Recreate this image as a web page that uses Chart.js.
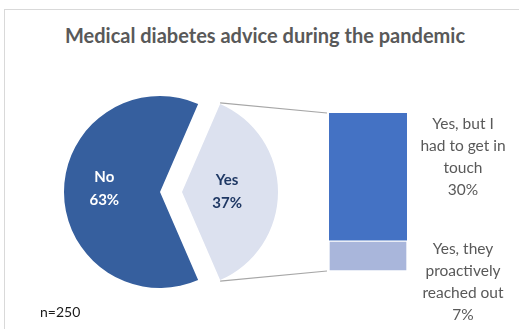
<!DOCTYPE html>
<html>
<head>
<meta charset="utf-8">
<script src="https://cdn.jsdelivr.net/npm/chart.js@4.4.1/dist/chart.umd.min.js"></script>
<style>
  html, body { margin: 0; padding: 0; background: #fff; }
  #wrap { position: relative; width: 519px; height: 329px; overflow: hidden; font-family: Lato, "Open Sans", sans-serif; }
  #frame { position: absolute; left: 4px; top: 9px; width: 600px; height: 400px; border-top: 1px solid #D9D9D9; border-left: 1px solid #D9D9D9; }
  canvas { position: absolute; left: 0; top: 0; }
  #title { position: absolute; left: 0; top: 23px; width: 530px; text-align: center; font-weight: bold; font-size: 20px; color: #595959; }
  #note { position: absolute; left: 40px; top: 303px; font-size: 14px; color: #1a1a1a; }
</style>
</head>
<body>
<div id="wrap">
  <div id="frame"></div>
  <div id="title">Medical diabetes advice during the pandemic</div>
  <canvas id="pieNo" width="519" height="329"></canvas>
  <canvas id="pieYes" width="519" height="329"></canvas>
  <canvas id="bar" width="519" height="329"></canvas>
  <div id="note">n=250</div>
</div>
<script>
// ---- data ----
const pieLabels = ['Yes', 'No'];
const pieValues = [37, 63];
const barLabels = ['Yes, they proactively reached out', 'Yes, but I had to get in touch'];
const barValues = [7, 30];
const barTextLines = [['Yes, they', 'proactively', 'reached out', '7%'], ['Yes, but I', 'had to get in', 'touch', '30%']];

const FONT = 'Lato, "Open Sans", sans-serif';

function pieLabelPlugin(idx, color, factor, dy) {
  return {
    id: 'pieLabel' + idx,
    afterDatasetsDraw(chart) {
      const arc = chart.getDatasetMeta(0).data[idx];
      const mid = (arc.startAngle + arc.endAngle) / 2;
      const d = arc.outerRadius * factor;
      const x = arc.x + Math.cos(mid) * d;
      const y = arc.y + Math.sin(mid) * d + dy;
      const ctx = chart.ctx;
      ctx.save();
      ctx.fillStyle = color;
      ctx.font = 'bold 15px ' + FONT;
      ctx.textAlign = 'center';
      ctx.textBaseline = 'middle';
      ctx.fillText(pieLabels[idx], x, y - 11);
      ctx.fillText(pieValues[idx] + '%', x, y + 12);
      ctx.restore();
    }
  };
}

function pieConfig(colors, padding, labelPlugin) {
  return {
    type: 'pie',
    data: { labels: pieLabels, datasets: [{ data: pieValues, backgroundColor: colors, borderWidth: 0 }] },
    options: {
      responsive: false, animation: false, radius: 96, rotation: 90 - 66.6,
      layout: { padding: padding },
      plugins: { legend: { display: false }, tooltip: { enabled: false } },
      events: []
    },
    plugins: [labelPlugin]
  };
}

const pieNo = new Chart(document.getElementById('pieNo'),
  pieConfig(['rgba(0,0,0,0)', '#365F9E'], { left: 0, right: 199, top: 60, bottom: 5 }, pieLabelPlugin(1, '#FFFFFF', 0.58, -4)));
const pieYes = new Chart(document.getElementById('pieYes'),
  pieConfig(['#DCE1EF', 'rgba(0,0,0,0)'], { left: 22, right: 177, top: 60, bottom: 5 }, pieLabelPlugin(0, '#1F3864', 0.47, -1)));

const connectorPlugin = {
  id: 'connectors',
  afterDatasetsDraw(chart) {
    const ctx = chart.ctx;
    const arc = pieYes.getDatasetMeta(0).data[0];
    const topBar = chart.getDatasetMeta(1).data[0];
    const botBar = chart.getDatasetMeta(0).data[0];
    const left = topBar.x - topBar.width / 2 - 2;
    const p1 = [arc.x + Math.cos(arc.startAngle) * arc.outerRadius, arc.y + Math.sin(arc.startAngle) * arc.outerRadius];
    const p2 = [arc.x + Math.cos(arc.endAngle) * arc.outerRadius, arc.y + Math.sin(arc.endAngle) * arc.outerRadius];
    ctx.save();
    ctx.strokeStyle = '#A6A6A6';
    ctx.lineWidth = 1.2;
    ctx.beginPath();
    ctx.moveTo(p1[0], p1[1] - 1); ctx.lineTo(left, topBar.y);
    ctx.moveTo(p2[0], p2[1] + 1); ctx.lineTo(left, botBar.base);
    ctx.stroke();
    // side labels
    ctx.fillStyle = '#595959';
    ctx.font = '15.5px ' + FONT;
    ctx.textAlign = 'center';
    ctx.textBaseline = 'middle';
    const tx = topBar.x + topBar.width / 2 + 56;
    const shifts = [26, -20];
    [0, 1].forEach(i => {
      const el = chart.getDatasetMeta(i).data[0];
      const cy = (el.y + el.base) / 2 + shifts[i];
      const lines = barTextLines[i];
      const lh = 22;
      lines.forEach((t, k) => ctx.fillText(t, tx, cy + (k - (lines.length - 1) / 2) * lh));
    });
    ctx.restore();
  }
};

new Chart(document.getElementById('bar'), {
  type: 'bar',
  data: {
    labels: ['Yes'],
    datasets: [
      { label: barLabels[0], data: [barValues[0]], backgroundColor: '#A9B6DB', borderColor: '#FFFFFF', borderWidth: 1, borderSkipped: false },
      { label: barLabels[1], data: [barValues[1]], backgroundColor: '#4472C4', borderColor: '#FFFFFF', borderWidth: { top: 0, left: 0, right: 0, bottom: 1 }, borderSkipped: false }
    ]
  },
  options: {
    responsive: false, animation: false,
    layout: { padding: { left: 329, right: 112, top: 113, bottom: 58 } },
    datasets: { bar: { barPercentage: 1, categoryPercentage: 1 } },
    scales: {
      x: { stacked: true, display: false },
      y: { stacked: true, display: false, min: 0, max: 37 }
    },
    plugins: { legend: { display: false }, tooltip: { enabled: false } },
    events: []
  },
  plugins: [connectorPlugin]
});
</script>
</body>
</html>
